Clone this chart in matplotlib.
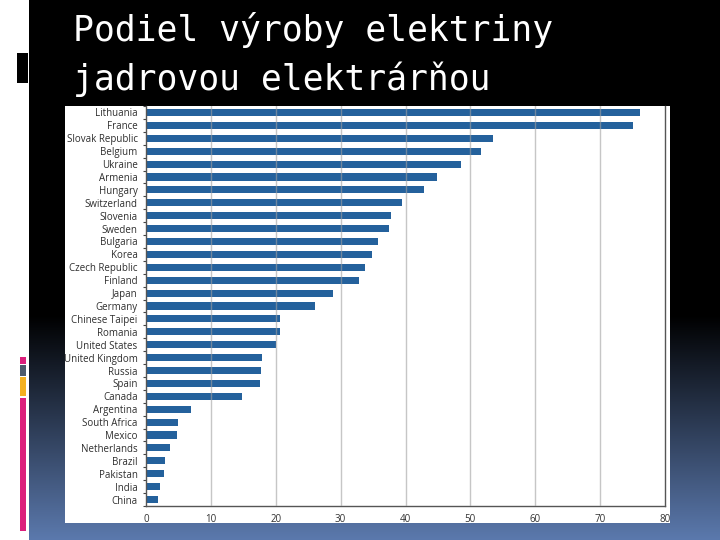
import matplotlib
matplotlib.use("Agg")
import matplotlib.pyplot as plt
import numpy as np
from matplotlib.patches import Rectangle

countries = ["Lithuania", "France", "Slovak Republic", "Belgium", "Ukraine", "Armenia",
             "Hungary", "Switzerland", "Slovenia", "Sweden", "Bulgaria", "Korea",
             "Czech Republic", "Finland", "Japan", "Germany", "Chinese Taipei", "Romania",
             "United States", "United Kingdom", "Russia", "Spain", "Canada", "Argentina",
             "South Africa", "Mexico", "Netherlands", "Brazil", "Pakistan", "India", "China"]
shares = [76.1, 75.1, 53.5, 51.6, 48.6, 44.8,
          42.9, 39.5, 37.8, 37.4, 35.8, 34.8,
          33.7, 32.9, 28.9, 26.1, 20.7, 20.6,
          20.1, 17.9, 17.8, 17.5, 14.8, 7.0,
          4.9, 4.8, 3.7, 2.9, 2.7, 2.2, 1.9]
xticks = [0, 10, 20, 30, 40, 50, 60, 70, 80]
title_lines = ["Podiel výroby elektriny", "jadrovou elektrárňou"]

W, H = 720, 540
fig = plt.figure(figsize=(7.2, 5.4), dpi=100)
fig.patch.set_facecolor("white")

# background slide
bg = fig.add_axes([0, 0, 1, 1])
bg.axis("off")
n = 256
t = np.linspace(0, 1, n)
start_y = 315
top = np.array([0, 0, 0])
bot = np.array([0x5b, 0x79, 0xad]) / 255
grad = np.zeros((n, 1, 3))
for i, ti in enumerate(t):
    grad[i, 0, :] = top * (1 - ti) + bot * ti
bg.add_patch(Rectangle((29, 0), W - 29, start_y, color="black", lw=0))
bg.imshow(grad, extent=(29, W, H, start_y), aspect="auto", interpolation="bilinear", zorder=1)
bg.set_xlim(0, W)
bg.set_ylim(H, 0)
# left decorations
bg.add_patch(Rectangle((17, 53), 11, 30, color="black", lw=0, zorder=2))
bg.add_patch(Rectangle((20, 357), 6, 7, color="#dc1f7c", lw=0, zorder=2))
bg.add_patch(Rectangle((20, 365), 6, 10.5, color="#4d5a6b", lw=0, zorder=2))
bg.add_patch(Rectangle((20, 376.5), 6, 19.5, color="#f4b120", lw=0, zorder=2))
bg.add_patch(Rectangle((20, 397.5), 6, 133.5, color="#dc1f7c", lw=0, zorder=2))
# white chart panel
bg.add_patch(Rectangle((65, 106), 605, 417, color="white", lw=0, zorder=3))

# title
fig.text(73 / W, 1 - 30 / H, title_lines[0], color="white", fontsize=25,
         family="DejaVu Sans Mono", va="center", ha="left")
fig.text(73 / W, 1 - 79 / H, title_lines[1], color="white", fontsize=25,
         family="DejaVu Sans Mono", va="center", ha="left")

# chart axes
ax_l, ax_r, ax_t, ax_b = 146, 665, 106, 506
ax = fig.add_axes([ax_l / W, 1 - ax_b / H, (ax_r - ax_l) / W, (ax_b - ax_t) / H])
ax.set_facecolor("white")
y = np.arange(len(countries))
ax.barh(y, shares, height=0.55, color="#24619c", zorder=2)
ax.set_ylim(len(countries) - 0.5, -0.5)
ax.set_xlim(0, 80)
ax.set_yticks(y)
ax.set_yticklabels(countries, fontsize=7.0, color="#2e2e2e", family="Open Sans")
ax.set_yticks(np.arange(-0.5, len(countries), 1), minor=True)
ax.tick_params(axis="y", which="major", length=0, pad=6)
ax.tick_params(axis="y", which="minor", length=2, width=0.8, color="#444444")
ax.set_xticks(xticks)
ax.set_xticklabels([str(v) for v in xticks], fontsize=7.0, color="#333333", family="Open Sans")
ax.tick_params(axis="x", length=0, pad=6)
for v in xticks[1:-1]:
    ax.axvline(v, color="#a0a0a0", alpha=0.6, lw=1, zorder=3)
for s in ["left", "bottom", "right"]:
    ax.spines[s].set_color("#555555")
    ax.spines[s].set_linewidth(1)
ax.spines["top"].set_visible(False)

fig.savefig("out.png", dpi=100, facecolor=fig.get_facecolor())
